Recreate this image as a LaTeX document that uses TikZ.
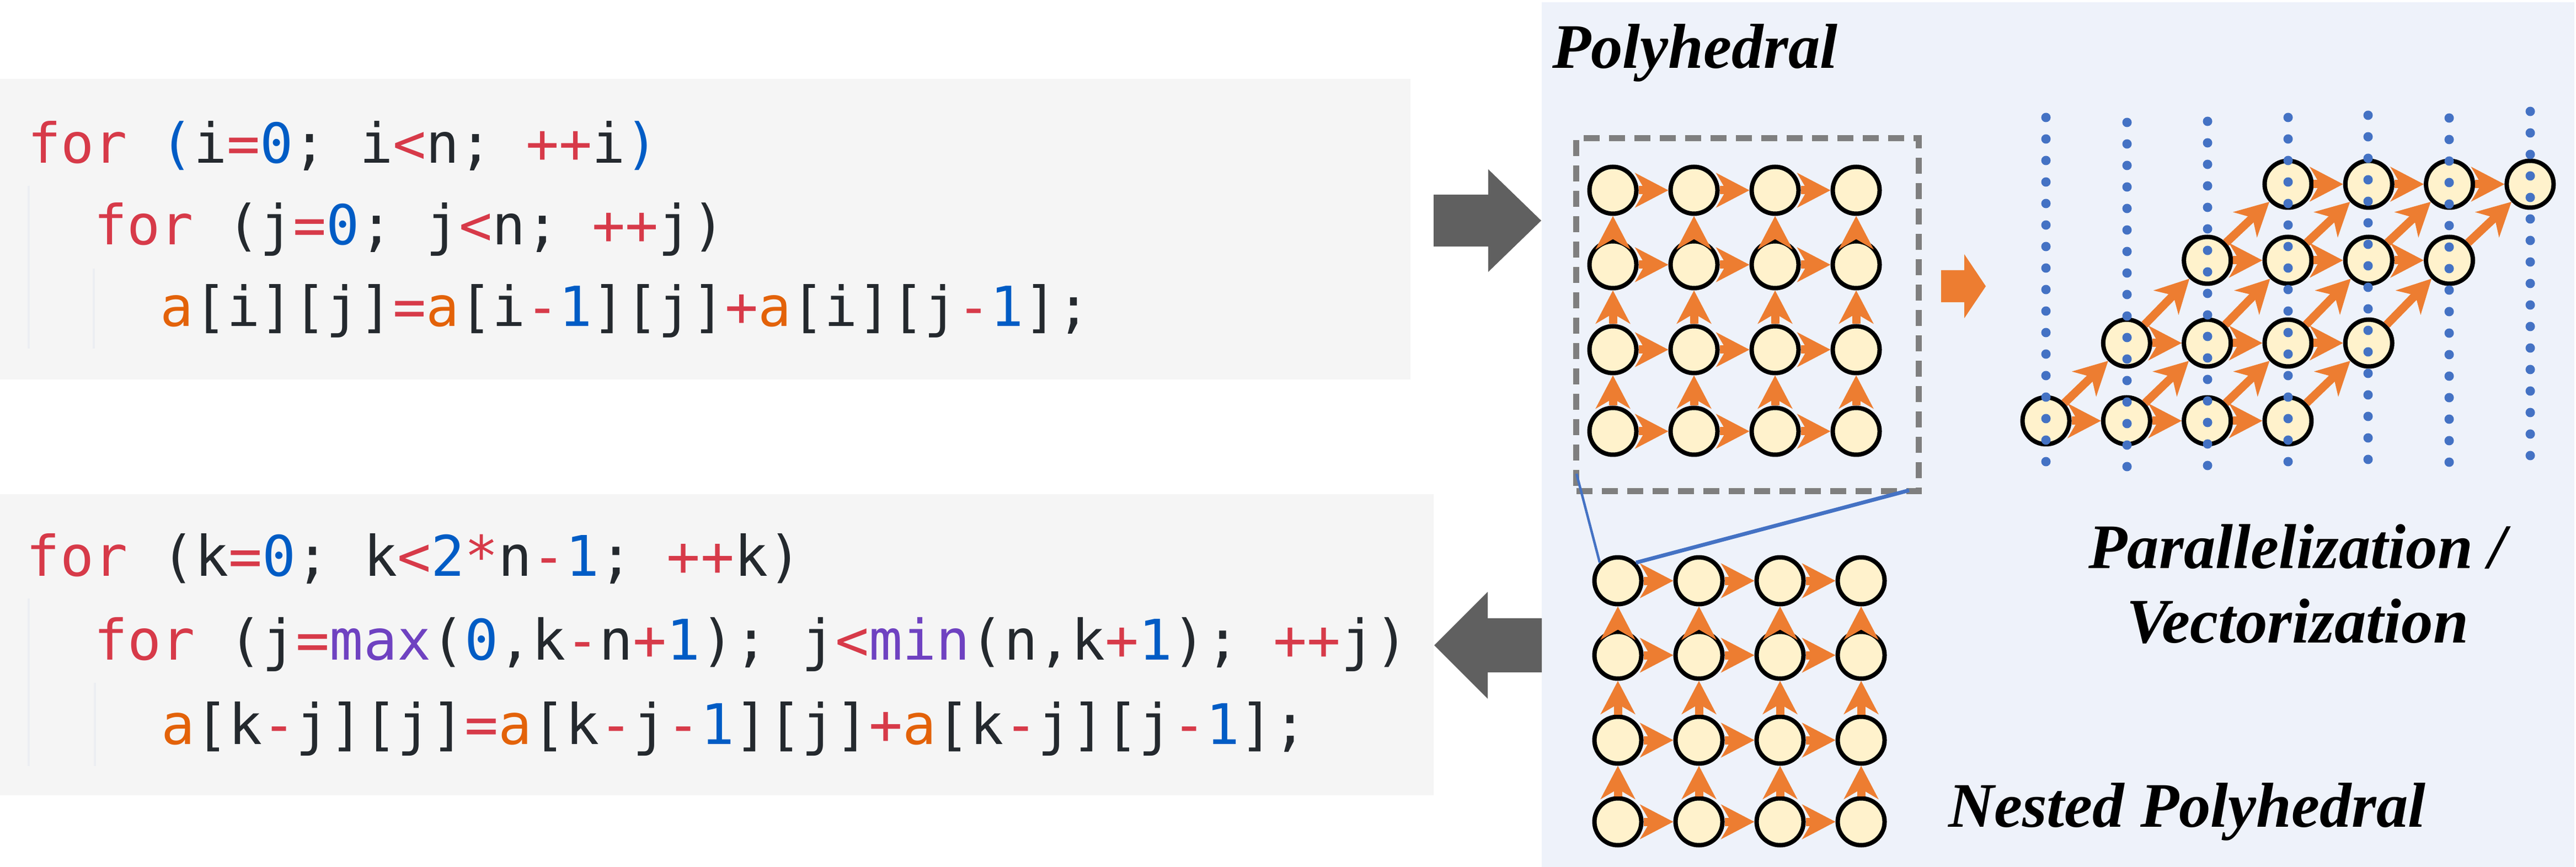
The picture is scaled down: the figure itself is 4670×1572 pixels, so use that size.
\documentclass[tikz,border=0pt]{standalone}
\usepackage{fontspec}
\setmonofont{DejaVu Sans Mono}
\newfontfamily\titlefont{Liberation Serif}
\usetikzlibrary{arrows.meta}
\definecolor{codebg}{HTML}{F5F5F5}
\definecolor{panelbg}{HTML}{EEF2FA}
\definecolor{cred}{HTML}{D73A49}
\definecolor{cblue}{HTML}{005CC5}
\definecolor{corange}{HTML}{E36209}
\definecolor{cpurple}{HTML}{6F42C1}
\definecolor{cdark}{HTML}{24292E}
\definecolor{arrgray}{HTML}{606060}
\definecolor{dashgray}{HTML}{7F7F7F}
\definecolor{forange}{HTML}{ED7D31}
\definecolor{nodefill}{HTML}{FFF2CC}
\definecolor{dotblue}{HTML}{4472C4}
\definecolor{guide}{HTML}{ECEEF2}
\newcommand\kR[1]{\textcolor{cred}{#1}}
\newcommand\kB[1]{\textcolor{cblue}{#1}}
\newcommand\kO[1]{\textcolor{corange}{#1}}
\newcommand\kP[1]{\textcolor{cpurple}{#1}}
\begin{document}
\begin{tikzpicture}[x=0.1pt,y=-0.1pt,
  codeline/.style={anchor=base west, inner sep=0pt, text=cdark,
    font=\ttfamily\fontsize{10pt}{12pt}\selectfont\frenchspacing},
  codelineb/.style={codeline,
    font=\ttfamily\fontsize{10.15pt}{12pt}\selectfont\frenchspacing},
  titletext/.style={inner sep=0pt, text=black,
    font=\titlefont\bfseries\itshape\fontsize{11.5pt}{13.5pt}\selectfont},
  gnode/.style={circle, draw=black, line width=0.8pt, fill=nodefill,
    minimum size=8.5pt, inner sep=0pt},
  farrow/.style={draw=forange, line width=1.5pt,
    -{Stealth[length=6pt,width=6.2pt,inset=1.8pt]}},
  guideline/.style={draw=guide, line width=0.4pt},
  bline/.style={draw=dotblue}
]
\useasboundingbox (0,0) rectangle (4670,1572);
% backgrounds
\fill[white] (0,0) rectangle (4670,1572);
\fill[panelbg] (2795,4) rectangle (4667,1572);
\fill[codebg] (0,143) rectangle (2557,688);
\fill[codebg] (0,896) rectangle (2599,1442);
% indentation guides
\draw[guideline] (52,337) -- (52,632);
\draw[guideline] (170,487) -- (170,632);
\draw[guideline] (52,1085) -- (52,1389);
\draw[guideline] (172,1238) -- (172,1389);
% code
\node[codeline] (t1) at (48,296) {\kR{for} \kB{(}i\kR{=}\kB{0}; i\kR{<}n; \kR{++}i\kB{)}};
\node[codeline] (t2) at (48,444) {\phantom{xx}\kR{for} (j\kR{=}\kB{0}; j\kR{<}n; \kR{++}j)};
\node[codeline] (t3) at (48,592) {\phantom{xxxx}\kO{a}[i][j]\kR{=}\kO{a}[i\kR{-}\kB{1}][j]\kR{+}\kO{a}[i][j\kR{-}\kB{1}];};
\node[codelineb] (b1) at (46,1045) {\kR{for} (k\kR{=}\kB{0}; k\kR{<}\kB{2}\kR{*}n\kR{-}\kB{1}; \kR{++}k)};
\node[codelineb] (b2) at (46,1196) {\phantom{xx}\kR{for} (j\kR{=}\kP{max}(\kB{0},k\kR{-}n\kR{+}\kB{1}); j\kR{<}\kP{min}(n,k\kR{+}\kB{1}); \kR{++}j)};
\node[codelineb] (b3) at (46,1349) {\phantom{xxxx}\kO{a}[k\kR{-}j][j]\kR{=}\kO{a}[k\kR{-}j\kR{-}\kB{1}][j]\kR{+}\kO{a}[k\kR{-}j][j\kR{-}\kB{1}];};
% big gray arrows
\fill[arrgray] (2599,353) -- (2698,353) -- (2698,307) -- (2794,400) -- (2698,493) -- (2698,447) -- (2599,447) -- cycle;
\fill[arrgray] (2795,1121) -- (2697,1121) -- (2697,1073) -- (2600,1170) -- (2697,1267) -- (2697,1219) -- (2795,1219) -- cycle;
% orange block arrow
\fill[forange] (3519,490) -- (3561,490) -- (3561,461) -- (3600,519) -- (3561,577) -- (3561,548) -- (3519,548) -- cycle;
% titles
\node[titletext, anchor=base west] (tpoly) at (2812,124) {Polyhedral};
\node[titletext, anchor=base] (tpar) at (4165,1030) {Parallelization /};
\node[titletext, anchor=base] (tvec) at (4165,1165) {Vectorization};
\node[titletext, anchor=base west] (tnest) at (3530,1499) {Nested Polyhedral};
% dashed box
\node[draw=dashgray, line width=1.1pt, dash pattern=on 2.9pt off 1.7pt,
  minimum width=62.1pt, minimum height=64pt, inner sep=0pt, anchor=north west]
  (box) at (2852,245) {};
% top grid
\foreach \y [count=\i from 0] in {345,480,634,782}
  \foreach \x [count=\j from 0] in {2924,3071,3218,3365}
    \node[gnode] (p-\i-\j) at (\x,\y) {};
\foreach \i in {0,...,3}
  \foreach \j/\k in {0/1,1/2,2/3}
    \draw[farrow] (p-\i-\j) -- (p-\i-\k);
\foreach \i/\h in {1/0,2/1,3/2}
  \foreach \j in {0,...,3}
    \draw[farrow] (p-\i-\j) -- (p-\h-\j);
% nested grid
\foreach \y [count=\i from 0] in {1053,1188,1342,1490}
  \foreach \x [count=\j from 0] in {2933,3080,3227,3374}
    \node[gnode] (q-\i-\j) at (\x,\y) {};
\coordinate (bl1) at (2858,859);
\coordinate (bl2) at (3461,889);
\draw[bline, line width=0.45pt] (bl1) -- (q-0-0.north west);
\draw[bline, line width=0.7pt] (bl2) -- (q-0-0.north east);
\foreach \i in {0,...,3}
  \foreach \j/\k in {0/1,1/2,2/3}
    \draw[farrow] (q-\i-\j) -- (q-\i-\k);
\foreach \i/\h in {1/0,2/1,3/2}
  \foreach \j in {0,...,3}
    \draw[farrow] (q-\i-\j) -- (q-\h-\j);
% skewed grid
\foreach \r/\yy in {0/763,1/622,2/472,3/334}
  \foreach \c in {0,...,3}
    \node[gnode] (s-\r-\c) at ({3709+146.3*(\r+\c)},\yy) {};
\foreach \r in {0,...,3}
  \foreach \c/\d in {0/1,1/2,2/3}
    \draw[farrow] (s-\r-\c) -- (s-\r-\d);
\foreach \r/\u in {0/1,1/2,2/3}
  \foreach \c in {0,...,3}
    \draw[farrow] (s-\r-\c) -- (s-\u-\c);
% dotted lines
\foreach \x/\t in {3709/213,3856/222,4002/220,4148/213,4293/209,4440/214,4587/202}
  \foreach \k in {0,...,16}
    \fill[dotblue] (\x,{\t+39*\k}) circle[radius=0.85pt];
\end{tikzpicture}
\end{document}
